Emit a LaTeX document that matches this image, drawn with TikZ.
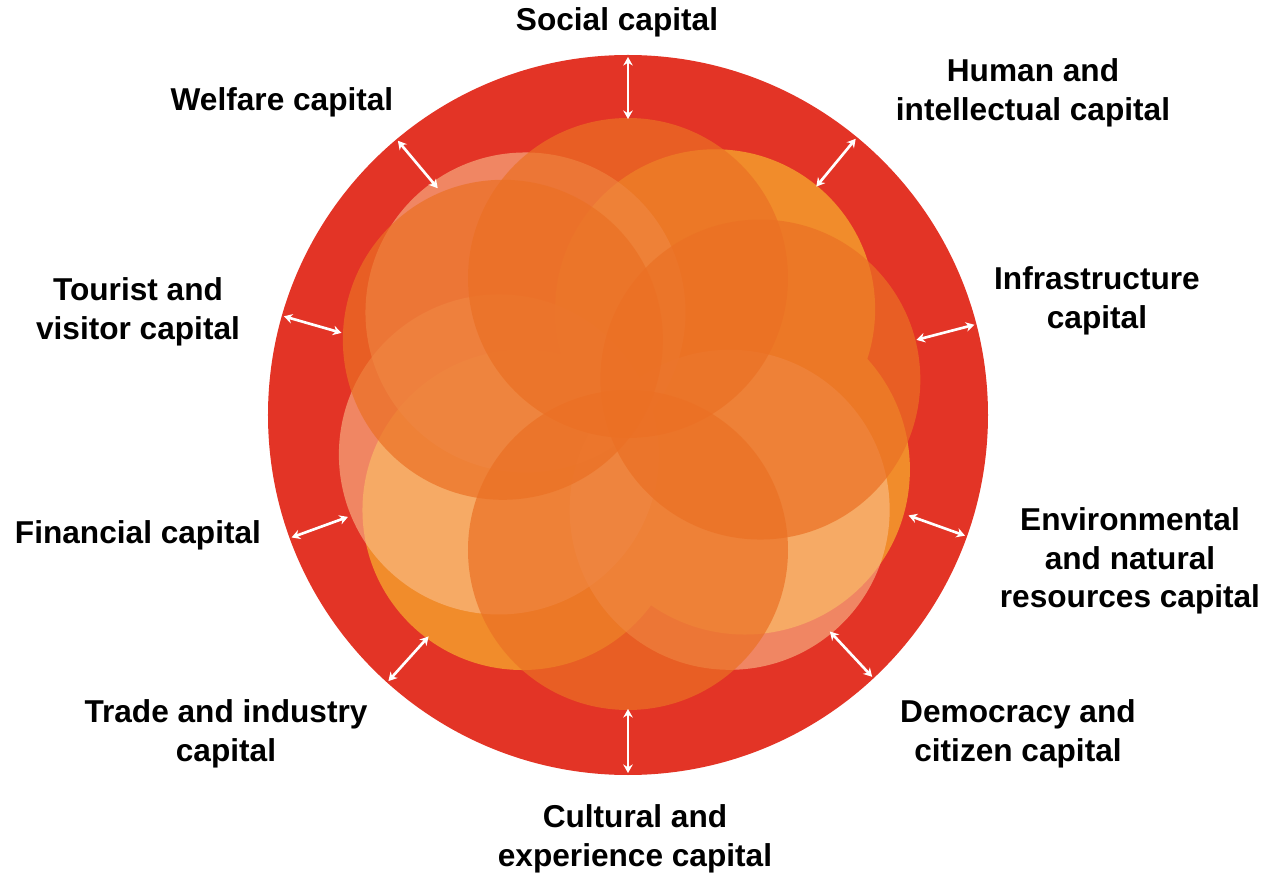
\documentclass[tikz,border=0pt]{standalone}
\usepackage{fontspec}
\setmainfont{Liberation Sans}
\usetikzlibrary{arrows.meta}
\definecolor{RingRed}{RGB}{227,52,38}
\definecolor{EmberOrange}{RGB}{235,112,36}
\definecolor{BrightOrange}{RGB}{241,140,43}
\definecolor{PeachLight}{RGB}{250,190,140}
\tikzset{
  ring/.style={fill=RingRed},
  brightpetal/.style={fill=BrightOrange},
  palepetal/.style={fill=PeachLight,fill opacity=0.6},
  emberpetal/.style={fill=EmberOrange,fill opacity=0.7},
  capflow/.style={{Stealth[length=1.7mm,width=1.9mm]}-{Stealth[length=1.7mm,width=1.9mm]},
    line width=1.5pt,draw=white},
  caplabel/.style={align=center,font=\fontsize{18}{22}\selectfont\bfseries}
}

\begin{document}
\begin{tikzpicture}[x=0.02cm,y=0.02cm]
  \useasboundingbox (-628,-460) rectangle (636,415);
  \coordinate (hub) at (0,0);
  \fill[ring] (hub) circle (360);

  % petals: bright ones underneath, pale ones over them, ember ones on top
  \fill[brightpetal] (50.5:137) circle (160);
  \fill[brightpetal] (-25:129) circle (165);
  \fill[brightpetal] (-138:142) circle (160);
  \fill[palepetal] (-43:139) circle (160);
  \fill[palepetal] (-163:135) circle (160);
  \fill[palepetal] (135:145) circle (160);
  \fill[emberpetal] (90:137) circle (160);
  \fill[emberpetal] (15:137) circle (160);
  \fill[emberpetal] (-90:135) circle (160);
  \fill[emberpetal] (149:146) circle (160);

  % labels
  \node[caplabel] (social) at (-11,393) {Social capital};
  \node[caplabel] (human) at (405,322) {Human and\\intellectual capital};
  \node[caplabel] (infra) at (469,114) {Infrastructure\\capital};
  \node[caplabel] (environ) at (502,-146) {Environmental\\and natural\\resources capital};
  \node[caplabel] (democracy) at (390,-319) {Democracy and\\citizen capital};
  \node[caplabel] (cultural) at (7,-424) {Cultural and\\experience capital};
  \node[caplabel] (trade) at (-402,-319) {Trade and industry\\capital};
  \node[caplabel] (financial) at (-490,-120) {Financial capital};
  \node[caplabel] (tourist) at (-490,103) {Tourist and\\visitor capital};
  \node[caplabel] (welfare) at (-346,313) {Welfare capital};

  % arrow ends on the petals and on the rim
  \coordinate (socialIn) at (90:296);    \coordinate (socialOut) at (90:358);
  \coordinate (humanIn) at (50.5:296);   \coordinate (humanOut) at (50.5:358);
  \coordinate (infraIn) at (14.6:298);   \coordinate (infraOut) at (14.6:358);
  \coordinate (environIn) at (-19.7:298); \coordinate (environOut) at (-19.7:358);
  \coordinate (democracyIn) at (-47:296); \coordinate (democracyOut) at (-47:358);
  \coordinate (culturalIn) at (-90:294); \coordinate (culturalOut) at (-90:358);
  \coordinate (tradeIn) at (-132:298);   \coordinate (tradeOut) at (-132:358);
  \coordinate (financialIn) at (-160:298); \coordinate (financialOut) at (-160:358);
  \coordinate (touristIn) at (164:298);  \coordinate (touristOut) at (164:358);
  \coordinate (welfareIn) at (130:296);  \coordinate (welfareOut) at (130:358);

  \draw[capflow] (socialIn) -- (socialOut);
  \draw[capflow] (humanIn) -- (humanOut);
  \draw[capflow] (infraIn) -- (infraOut);
  \draw[capflow] (environIn) -- (environOut);
  \draw[capflow] (democracyIn) -- (democracyOut);
  \draw[capflow] (culturalIn) -- (culturalOut);
  \draw[capflow] (tradeIn) -- (tradeOut);
  \draw[capflow] (financialIn) -- (financialOut);
  \draw[capflow] (touristIn) -- (touristOut);
  \draw[capflow] (welfareIn) -- (welfareOut);
\end{tikzpicture}
\end{document}
